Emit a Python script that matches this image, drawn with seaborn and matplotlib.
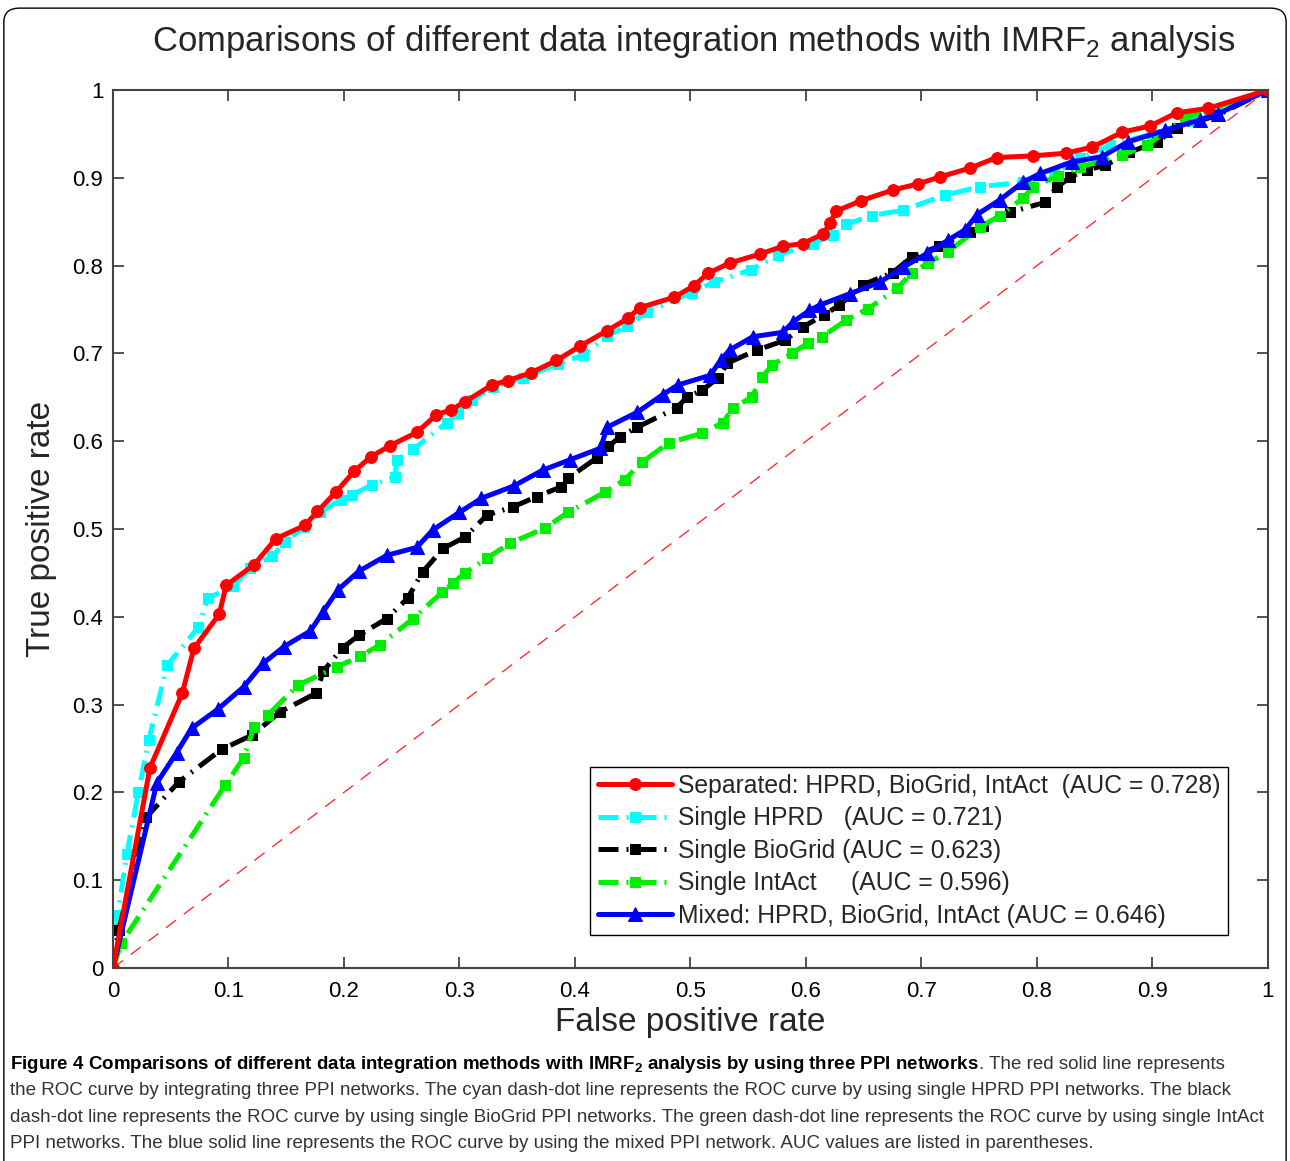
import numpy as np
import pandas as pd
import seaborn as sns
import matplotlib.pyplot as plt
from matplotlib.patches import FancyBboxPatch

# ROC curves: false positive rate / true positive rate
fpr_sep = [0, 0.032, 0.060, 0.070, 0.092, 0.098, 0.122, 0.141, 0.166, 0.177, 0.193, 0.209, 0.223,
           0.240, 0.263, 0.280, 0.293, 0.305, 0.328, 0.342, 0.362, 0.384, 0.404, 0.428, 0.446, 0.456,
           0.486, 0.503, 0.515, 0.534, 0.560, 0.580, 0.597, 0.615, 0.621, 0.626, 0.648, 0.675, 0.697,
           0.716, 0.742, 0.765, 0.797, 0.825, 0.848, 0.874, 0.898, 0.921, 0.948, 1.0]
tpr_sep = [0, 0.228, 0.313, 0.364, 0.403, 0.436, 0.459, 0.489, 0.504, 0.520, 0.542, 0.566, 0.582,
           0.595, 0.610, 0.630, 0.636, 0.645, 0.664, 0.669, 0.678, 0.692, 0.708, 0.726, 0.740, 0.752,
           0.764, 0.777, 0.791, 0.803, 0.813, 0.822, 0.825, 0.836, 0.849, 0.862, 0.874, 0.886, 0.893,
           0.901, 0.911, 0.923, 0.925, 0.928, 0.935, 0.952, 0.959, 0.974, 0.979, 1.0]

fpr_hprd = [0, 0.004, 0.012, 0.022, 0.031, 0.047, 0.074, 0.082, 0.104, 0.119, 0.138, 0.149, 0.165,
            0.179, 0.197, 0.207, 0.224, 0.244, 0.246, 0.260, 0.289, 0.299, 0.311, 0.329, 0.355, 0.385,
            0.407, 0.428, 0.445, 0.462, 0.501, 0.520, 0.552, 0.576, 0.606, 0.623, 0.635, 0.657, 0.684,
            0.720, 0.751, 0.788, 0.815, 0.837, 0.863, 0.900, 0.935, 1.0]
tpr_hprd = [0, 0.060, 0.130, 0.200, 0.260, 0.345, 0.388, 0.421, 0.435, 0.456, 0.469, 0.485, 0.502,
            0.519, 0.533, 0.539, 0.550, 0.559, 0.579, 0.591, 0.621, 0.632, 0.647, 0.662, 0.672, 0.688,
            0.698, 0.720, 0.731, 0.747, 0.769, 0.781, 0.795, 0.812, 0.825, 0.835, 0.847, 0.857, 0.863,
            0.880, 0.890, 0.895, 0.905, 0.922, 0.937, 0.950, 0.965, 1.0]

fpr_bio = [0, 0.005, 0.029, 0.057, 0.094, 0.120, 0.145, 0.176, 0.182, 0.199, 0.213, 0.237, 0.255,
           0.268, 0.286, 0.305, 0.324, 0.346, 0.367, 0.388, 0.394, 0.419, 0.429, 0.439, 0.454, 0.488,
           0.497, 0.510, 0.524, 0.532, 0.558, 0.582, 0.597, 0.616, 0.629, 0.649, 0.675, 0.692, 0.715,
           0.742, 0.753, 0.777, 0.807, 0.817, 0.829, 0.843, 0.859, 0.880, 0.904, 0.921, 0.956, 1.0]
tpr_bio = [0, 0.043, 0.172, 0.212, 0.249, 0.265, 0.292, 0.313, 0.338, 0.365, 0.379, 0.398, 0.421,
           0.451, 0.478, 0.491, 0.516, 0.525, 0.537, 0.548, 0.558, 0.581, 0.594, 0.605, 0.616, 0.638,
           0.650, 0.658, 0.672, 0.689, 0.704, 0.715, 0.730, 0.744, 0.755, 0.778, 0.792, 0.810, 0.822,
           0.838, 0.845, 0.861, 0.872, 0.889, 0.901, 0.909, 0.914, 0.929, 0.941, 0.957, 0.971, 1.0]

fpr_int = [0, 0.007, 0.097, 0.113, 0.122, 0.134, 0.160, 0.194, 0.214, 0.231, 0.260, 0.285, 0.294,
           0.305, 0.324, 0.344, 0.374, 0.394, 0.426, 0.443, 0.458, 0.481, 0.510, 0.528, 0.537, 0.553,
           0.562, 0.571, 0.588, 0.602, 0.614, 0.635, 0.654, 0.679, 0.692, 0.706, 0.723, 0.751, 0.768,
           0.788, 0.797, 0.818, 0.837, 0.874, 0.895, 0.928, 1.0]
tpr_int = [0, 0.028, 0.208, 0.239, 0.274, 0.288, 0.322, 0.343, 0.355, 0.368, 0.398, 0.428, 0.438,
           0.450, 0.467, 0.484, 0.501, 0.519, 0.542, 0.556, 0.576, 0.598, 0.609, 0.621, 0.638, 0.650,
           0.673, 0.687, 0.700, 0.712, 0.719, 0.738, 0.751, 0.774, 0.792, 0.803, 0.816, 0.844, 0.857,
           0.877, 0.890, 0.902, 0.912, 0.926, 0.937, 0.968, 1.0]

fpr_mix = [0, 0.038, 0.055, 0.068, 0.091, 0.113, 0.130, 0.148, 0.171, 0.182, 0.195, 0.213, 0.237,
           0.263, 0.277, 0.300, 0.319, 0.347, 0.372, 0.396, 0.422, 0.428, 0.454, 0.476, 0.489, 0.517,
           0.526, 0.534, 0.554, 0.580, 0.589, 0.603, 0.612, 0.638, 0.664, 0.684, 0.705, 0.723, 0.738,
           0.748, 0.768, 0.788, 0.803, 0.830, 0.856, 0.879, 0.911, 0.941, 0.957, 1.0]
tpr_mix = [0, 0.211, 0.245, 0.273, 0.295, 0.320, 0.347, 0.366, 0.384, 0.406, 0.431, 0.452, 0.470,
           0.479, 0.499, 0.519, 0.535, 0.549, 0.567, 0.579, 0.592, 0.616, 0.633, 0.653, 0.664, 0.675,
           0.692, 0.704, 0.719, 0.724, 0.736, 0.749, 0.755, 0.768, 0.781, 0.798, 0.814, 0.829, 0.841,
           0.858, 0.875, 0.895, 0.905, 0.918, 0.924, 0.941, 0.954, 0.966, 0.973, 1.0]

chance = [0, 1]

lab_sep = "Separated: HPRD, BioGrid, IntAct  (AUC = 0.728)"
lab_hprd = "Single HPRD   (AUC = 0.721)"
lab_bio = "Single BioGrid (AUC = 0.623)"
lab_int = "Single IntAct     (AUC = 0.596)"
lab_mix = "Mixed: HPRD, BioGrid, IntAct (AUC = 0.646)"

ticks = np.round(np.arange(0, 1.01, 0.1), 1)
tick_labels = ["0", "0.1", "0.2", "0.3", "0.4", "0.5", "0.6", "0.7", "0.8", "0.9", "1"]

title = "Comparisons of different data integration methods with IMRF$_2$ analysis"
cap_bold = "Figure 4 Comparisons of different data integration methods with IMRF$_\\mathbf{2}$ analysis by using three PPI networks"
cap_lines = [". The red solid line represents",
             "the ROC curve by integrating three PPI networks. The cyan dash-dot line represents the ROC curve by using single HPRD PPI networks. The black",
             "dash-dot line represents the ROC curve by using single BioGrid PPI networks. The green dash-dot line represents the ROC curve by using single IntAct",
             "PPI networks. The blue solid line represents the ROC curve by using the mixed PPI network. AUC values are listed in parentheses."]

sns.set_style("ticks")
plt.rcParams['font.family'] = ['Liberation Sans', 'DejaVu Sans']
plt.rcParams['mathtext.fontset'] = 'custom'
plt.rcParams['mathtext.rm'] = 'Liberation Sans'
plt.rcParams['mathtext.bf'] = 'Liberation Sans:bold'
plt.rcParams['xtick.direction'] = 'in'
plt.rcParams['ytick.direction'] = 'in'

fig = plt.figure(figsize=(12.9, 11.61), dpi=100)
ax = fig.add_axes([0.0876, 0.1662, 0.8953, 0.7563])

dashdot = (0, (4, 1.6, 0.4, 1.6))
lw = 3.6

sns.lineplot(x=chance, y=chance, ax=ax, color="#ff3030", linewidth=1.0,
             linestyle=(0, (9, 7)), estimator=None, sort=False)
l_hprd = sns.lineplot(x=fpr_hprd, y=tpr_hprd, ax=ax, color="#00ffff", linewidth=lw, linestyle=dashdot,
                      marker="s", markersize=6.5, markeredgecolor="#00ffff", estimator=None, sort=False).lines[-1]
l_bio = sns.lineplot(x=fpr_bio, y=tpr_bio, ax=ax, color="black", linewidth=lw, linestyle=dashdot,
                     marker="s", markersize=6.5, markeredgecolor="black", estimator=None, sort=False).lines[-1]
l_int = sns.lineplot(x=fpr_int, y=tpr_int, ax=ax, color="#00ee00", linewidth=lw, linestyle=dashdot,
                     marker="s", markersize=6.5, markeredgecolor="#00ee00", estimator=None, sort=False).lines[-1]
l_mix = sns.lineplot(x=fpr_mix, y=tpr_mix, ax=ax, color="#0000ff", linewidth=lw, linestyle="-",
                     marker="^", markersize=10.5, markeredgecolor="#0000ff", estimator=None, sort=False).lines[-1]
l_sep = sns.lineplot(x=fpr_sep, y=tpr_sep, ax=ax, color="#ff0000", linewidth=lw, linestyle="-",
                     marker="o", markersize=8.5, markeredgecolor="#ff0000", estimator=None, sort=False).lines[-1]

ax.set_xlim(0, 1)
ax.set_ylim(0, 1)
ax.set_xticks(ticks)
ax.set_yticks(ticks)
ax.set_xticklabels(tick_labels)
ax.set_yticklabels(tick_labels)
ax.tick_params(axis='both', which='both', top=True, right=True, length=8, width=1.3,
               color="#444444", labelsize=16, labelcolor="black")
ax.tick_params(axis='x', pad=9)
ax.tick_params(axis='y', pad=7)
for s in ax.spines.values():
    s.set_visible(True)
    s.set_color("#444444")
    s.set_linewidth(1.5)

ax.set_xlabel("False positive rate", fontsize=24)
ax.set_ylabel("True positive rate", fontsize=24)
ax.xaxis.set_label_coords(0.5, -0.0615)
ax.xaxis.label.set_va('center')
ax.yaxis.set_label_coords(-0.0615, 0.5)
ax.yaxis.label.set_va('center')

leg = ax.legend([l_sep, l_hprd, l_bio, l_int, l_mix], [lab_sep, lab_hprd, lab_bio, lab_int, lab_mix],
                loc='lower right', bbox_to_anchor=(0.9654, 0.0376), fontsize=17.8, frameon=True,
                fancybox=False, edgecolor="black", framealpha=1, handlelength=3.0,
                labelspacing=0.34, borderpad=0.3, handletextpad=0.25, borderaxespad=0)
leg.get_frame().set_linewidth(1.0)

fig.text(0.538, 0.964, title, ha='center', va='center', fontsize=24.9)

# caption under the chart, first part in bold
cap_y = [0.0795, 0.0571, 0.0338, 0.0114]
probe = fig.text(0, 0, cap_lines[2], fontsize=14)
fig.canvas.draw()
cap_size = 14 * 1262 / probe.get_window_extent().width
probe.remove()

t_bold = fig.text(0.008, cap_y[0], cap_bold, fontsize=cap_size, fontweight='bold',
                  ha='left', va='baseline', color="black")
fig.canvas.draw()
bb = t_bold.get_window_extent()
fig.text(bb.x1 / fig.bbox.width, cap_y[0], cap_lines[0], fontsize=cap_size,
         ha='left', va='baseline', color="#333333")
for yy, line in zip(cap_y[1:], cap_lines[1:]):
    fig.text(0.008, yy, line, fontsize=cap_size, ha='left', va='baseline', color="#333333")

fig.patches.append(FancyBboxPatch((0.003, -0.03), 0.994, 1.023, boxstyle="round,pad=0,rounding_size=0.012",
                                  transform=fig.transFigure, fill=False, edgecolor="black", linewidth=1.0,
                                  figure=fig))

fig.savefig("out.png", dpi=100)
